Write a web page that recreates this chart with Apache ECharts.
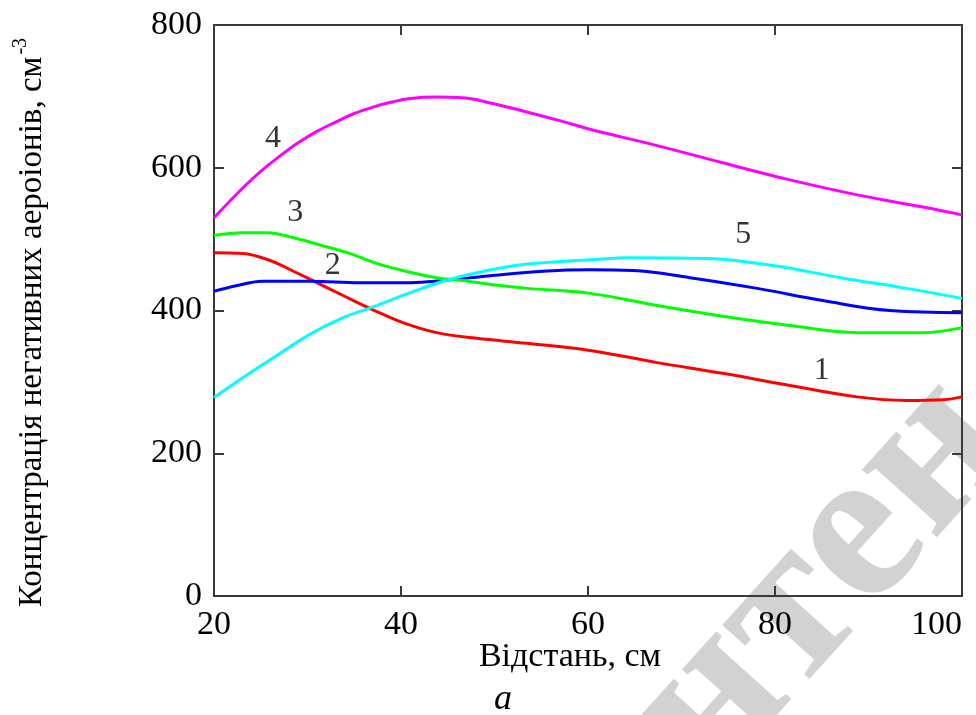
<!DOCTYPE html>
<html>
<head>
<meta charset="utf-8">
<script src="https://cdn.jsdelivr.net/npm/echarts@6/dist/echarts.min.js"></script>
<style>
  html, body { margin: 0; padding: 0; background: #fff; }
  #chart { width: 976px; height: 715px; }
</style>
</head>
<body>
<div id="chart"></div>
<script>
// Distance from the source, cm
const xTicks = [20, 40, 60, 80, 100];
const yTicks = [0, 200, 400, 600, 800];

// Curve 1 (red)
const curve1 = [[20, 481], [23.1, 480], [26, 470], [28.5, 455], [31, 439], [33.8, 421], [37, 401],
  [40.2, 383], [43.8, 369], [48.1, 361], [53.5, 354], [60.2, 344], [67.4, 327], [74.4, 312],
  [81.6, 295], [88.8, 279], [94.1, 274], [98, 275], [100, 279]];
// Curve 2 (blue)
const curve2 = [[20, 427], [22.5, 435], [25.2, 441], [30.3, 441], [35.6, 439], [41, 439], [44.5, 442],
  [49.8, 449], [55.2, 455], [60.2, 457], [64.8, 456], [70.9, 446], [78.1, 431], [85.1, 414],
  [92.3, 400], [100, 397]];
// Curve 3 (green)
const curve3 = [[20, 505], [23.1, 509], [25.7, 509], [28.5, 502], [31.3, 492], [34.5, 480], [37.4, 466],
  [40.2, 456], [43.8, 446], [46.6, 442], [49.8, 436], [53.5, 431], [60.2, 424], [67.4, 407],
  [74.4, 392], [81.6, 379], [88.8, 369], [95.8, 369], [100, 376]];
// Curve 4 (magenta)
const curve4 = [[20, 530], [23.1, 572], [25, 595], [27, 616], [29, 635], [31, 651], [33, 664],
  [35, 676], [37, 685], [39, 692], [41, 697], [43.8, 699], [46.6, 698],
  [49.8, 690], [53.5, 678], [57, 666], [60.2, 654], [67.4, 631], [74.4, 607], [81.6, 583],
  [88.8, 562], [95.8, 545], [100, 534]];
// Curve 5 (cyan)
const curve5 = [[20, 278], [23.1, 306], [26.7, 337], [30.3, 367], [33.8, 390], [37, 405], [41, 425],
  [44.5, 441], [48.1, 453], [53.5, 465], [60.2, 471], [64.5, 474], [72.7, 473], [79.8, 463],
  [87, 446], [94.1, 431], [100, 417]];

// Curve numbers placed next to their lines (x, y, label)
const curveTags = [[85.0, 316, '1'], [32.7, 463, '2'], [28.7, 537, '3'], [26.3, 641, '4'], [76.6, 506, '5']];

const curves = [
  { name: '1', data: curve1, color: '#ff0000' },
  { name: '2', data: curve2, color: '#0000ff' },
  { name: '3', data: curve3, color: '#00ff00' },
  { name: '4', data: curve4, color: '#ff00ff' },
  { name: '5', data: curve5, color: '#00ffff' }
];

const FONT = '"Liberation Serif", "Times New Roman", serif';
const AXIS_COLOR = '#3a3a3a';

function valueAxis(pos, ticks, showLabels, extra) {
  return Object.assign({
    type: 'value',
    position: pos,
    min: ticks[0],
    max: ticks[ticks.length - 1],
    interval: ticks[1] - ticks[0],
    axisLine: { show: true, onZero: false, lineStyle: { color: AXIS_COLOR, width: 2 } },
    axisTick: { show: true, inside: true, length: 10, lineStyle: { color: AXIS_COLOR, width: 2 } },
    axisLabel: { show: showLabels, color: '#000', fontFamily: FONT, fontSize: 34, margin: 12 },
    splitLine: { show: false }
  }, extra || {});
}

const chart = echarts.init(document.getElementById('chart'), null, { renderer: 'canvas' });

chart.setOption({
  backgroundColor: '#ffffff',
  animation: false,
  grid: { left: 214, right: 14, top: 25, bottom: 119, outerBoundsMode: 'none' },
  xAxis: [
    valueAxis('bottom', xTicks, true, {
      name: 'Відстань, см',
      nameLocation: 'middle',
      nameGap: 44,
      nameMoveOverlap: false,
      nameTextStyle: { color: '#000', fontFamily: FONT, fontSize: 34, padding: [0, 36, 0, 0] },
      axisLabel: {
        show: true, color: '#000', fontFamily: FONT, fontSize: 34, margin: 12,
        alignMaxLabel: 'right'
      }
    }),
    valueAxis('top', xTicks, false)
  ],
  yAxis: [
    valueAxis('left', yTicks, true, {
      name: '{t|Концентрація негативних аероіонів, см}{s|-3}',
      nameLocation: 'middle',
      nameRotate: 90,
      nameGap: 165,
      nameMoveOverlap: false,
      nameTextStyle: {
        color: '#000',
        fontFamily: FONT,
        padding: [0, 24, 0, 0],
        rich: {
          t: { fontFamily: FONT, fontSize: 33, color: '#000', verticalAlign: 'bottom' },
          s: { fontFamily: FONT, fontSize: 20, color: '#000', verticalAlign: 'top', padding: [0, 0, 18, 2] }
        }
      }
    }),
    valueAxis('right', yTicks, false)
  ],
  graphic: [
    {
      type: 'text',
      z: -10,
      x: 822,
      y: 580,
      rotation: 48 * Math.PI / 180,
      style: {
        text: 'нтен',
        fill: '#d2d2d2',
        font: 'bold 220px "Liberation Serif", serif',
        textAlign: 'center',
        textVerticalAlign: 'middle'
      }
    },
    {
      type: 'text',
      left: 494,
      top: 682,
      style: {
        text: 'a',
        fill: '#000',
        font: 'italic 36px "Liberation Serif", serif'
      }
    }
  ],
  series: curves.map(c => ({
    type: 'line',
    name: c.name,
    data: c.data,
    smooth: 0.4,
    showSymbol: false,
    symbol: 'none',
    lineStyle: { color: c.color, width: 3 },
    z: 3
  })).concat([{
    type: 'scatter',
    data: curveTags,
    symbolSize: 0,
    z: 4,
    label: {
      show: true,
      position: 'inside',
      formatter: p => p.value[2],
      color: '#000',
      fontFamily: FONT,
      fontSize: 32
    }
  }])
});
</script>
</body>
</html>
